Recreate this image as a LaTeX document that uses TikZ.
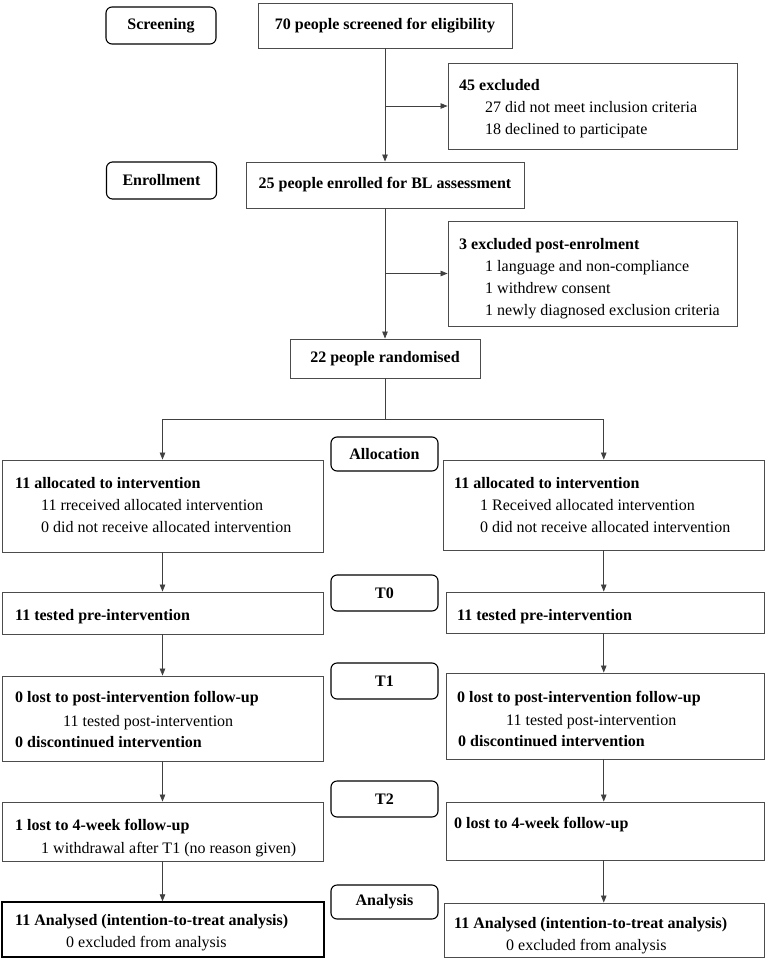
\documentclass[tikz,border=0pt]{standalone}
\usepackage{fontspec}
\setmainfont{Liberation Serif}
\usetikzlibrary{arrows.meta,fit}
\begin{document}
\begin{tikzpicture}[x=1pt,y=-1pt,
 box/.style={draw=black!70, line width=0.9pt, inner sep=0pt},
 cbox/.style={draw=black!70, line width=0.9pt, inner sep=0pt, font=\fontsize{16}{20}\selectfont\bfseries},
 stage/.style={draw=black, line width=1.1pt, rounded corners=6pt, inner sep=0pt, minimum width=107pt, font=\fontsize{16}{20}\selectfont\bfseries},
 rt/.style={anchor=base west, inner sep=0pt, font=\fontsize{16}{20}\selectfont},
 bt/.style={anchor=base west, inner sep=0pt, font=\fontsize{16}{20}\selectfont\bfseries},
 arr/.style={draw=black!75, line width=0.8pt, -{Triangle[length=7pt,width=5.5pt]}},
 ln/.style={draw=black!75, line width=0.8pt}]
\useasboundingbox (0,0) rectangle (766,960);

% stage labels
\node[stage, minimum width=110pt, minimum height=37pt] (scr) at (161,25.5) {Screening};
\node[stage, minimum width=110pt, minimum height=37pt] (enr) at (161.5,180.5) {Enrollment};
\node[stage, minimum height=34pt] (alc) at (384.5,454) {Allocation};
\node[stage, minimum height=36pt] (st0) at (384.5,593) {T0};
\node[stage, minimum height=36pt] (st1) at (384.5,681) {T1};
\node[stage, minimum height=36pt] (st2) at (384.5,799) {T2};
\node[stage, minimum height=34pt] (san) at (384.5,902) {Analysis};

% central boxes
\node[cbox, minimum width=254pt, minimum height=45pt] (s70) at (385,25.5) {70 people screened for eligibility};
\node[cbox, minimum width=278pt, minimum height=46pt] (e25) at (385,185) {25 people enrolled for BL assessment};
\node[cbox, minimum width=190pt, minimum height=39pt] (r22) at (385,358.5) {22 people randomised};

% exclusion boxes
\node[box, fit={(448,63) (737,149)}] (x45) {};
\node[bt] (x45a) at (459,91) {45 excluded};
\node[rt] (x45b) at (485,113) {27 did not meet inclusion criteria};
\node[rt] (x45c) at (485,135) {18 declined to participate};

\node[box, fit={(448,221) (737,326)}] (x3) {};
\node[bt] (x3a) at (459,249) {3 excluded post-enrolment};
\node[rt] (x3b) at (485,271) {1 language and non-compliance};
\node[rt] (x3c) at (485,293) {1 withdrew consent};
\node[rt] (x3d) at (485,315) {1 newly diagnosed exclusion criteria};

% allocation
\node[box, fit={(2,460) (323,552)}] (aL) {};
\node[bt] (aLa) at (15,488) {11 allocated to intervention};
\node[rt] (aLb) at (41,510) {11 rreceived allocated intervention};
\node[rt] (aLc) at (41,532) {0 did not receive allocated intervention};

\node[box, fit={(443,460) (764.5,550)}] (aR) {};
\node[bt] (aRa) at (454,488) {11 allocated to intervention};
\node[rt] (aRb) at (480,510) {1 Received allocated intervention};
\node[rt] (aRc) at (480,532) {0 did not receive allocated intervention};

% T0
\node[box, fit={(2,592) (323,634)}] (t0L) {};
\node[bt] (t0La) at (15,620) {11 tested pre-intervention};
\node[box, fit={(446,592) (764.5,633)}] (t0R) {};
\node[bt] (t0Ra) at (457,620) {11 tested pre-intervention};

% T1
\node[box, fit={(2,676) (323,761)}] (t1L) {};
\node[bt] (t1La) at (15,702) {0 lost to post-intervention follow-up};
\node[rt] (t1Lb) at (63,726) {11 tested post-intervention};
\node[bt] (t1Lc) at (15,747) {0 discontinued intervention};
\node[box, fit={(446,673) (764.5,759)}] (t1R) {};
\node[bt] (t1Ra) at (457,702) {0 lost to post-intervention follow-up};
\node[rt] (t1Rb) at (506,725) {11 tested post-intervention};
\node[bt] (t1Rc) at (458,746) {0 discontinued intervention};

% T2
\node[box, fit={(2,802) (323,861)}] (t2L) {};
\node[bt] (t2La) at (15,830) {1 lost to 4-week follow-up};
\node[rt] (t2Lb) at (41,853) {1 withdrawal after T1 (no reason given)};
\node[box, fit={(446,802) (764.5,860)}] (t2R) {};
\node[bt] (t2Ra) at (454,828) {0 lost to 4-week follow-up};

% Analysis
\node[box, draw=black, line width=1.4pt, fit={(2,902) (324,957)}] (anL) {};
\node[bt] (anLa) at (15,925) {11 Analysed (intention-to-treat analysis)};
\node[rt] (anLb) at (66,947) {0 excluded from analysis};
\node[box, fit={(444,903) (764.5,957)}] (anR) {};
\node[bt] (anRa) at (454,928) {11 Analysed (intention-to-treat analysis)};
\node[rt] (anRb) at (506,950) {0 excluded from analysis};

% connectors
\draw[arr] (s70.south) -- (s70.south |- e25.north);
\coordinate (j1) at (385,106);
\draw[arr] (j1) -- (x45.west |- j1);
\draw[arr] (e25.south) -- (e25.south |- r22.north);
\coordinate (j2) at (385,273.5);
\draw[arr] (j2) -- (x3.west |- j2);
\coordinate (br) at (385,419);
\draw[ln] (r22.south) -- (br);
\draw[arr] (br) -| (aL.north);
\draw[arr] (br) -| (aR.north);

\draw[arr] (aL.south) -- (aL.south |- t0L.north);
\draw[arr] (t0L.south) -- (t0L.south |- t1L.north);
\draw[arr] (t1L.south) -- (t1L.south |- t2L.north);
\draw[arr] (t2L.south) -- (t2L.south |- anL.north);

\draw[arr] (aR.south) -- (aR.south |- t0R.north);
\draw[arr] (t0R.south -| aR.south) -- (aR.south |- t1R.north);
\draw[arr] (t1R.south -| aR.south) -- (aR.south |- t2R.north);
\draw[arr] (t2R.south -| aR.south) -- (aR.south |- anR.north);
\end{tikzpicture}
\end{document}
